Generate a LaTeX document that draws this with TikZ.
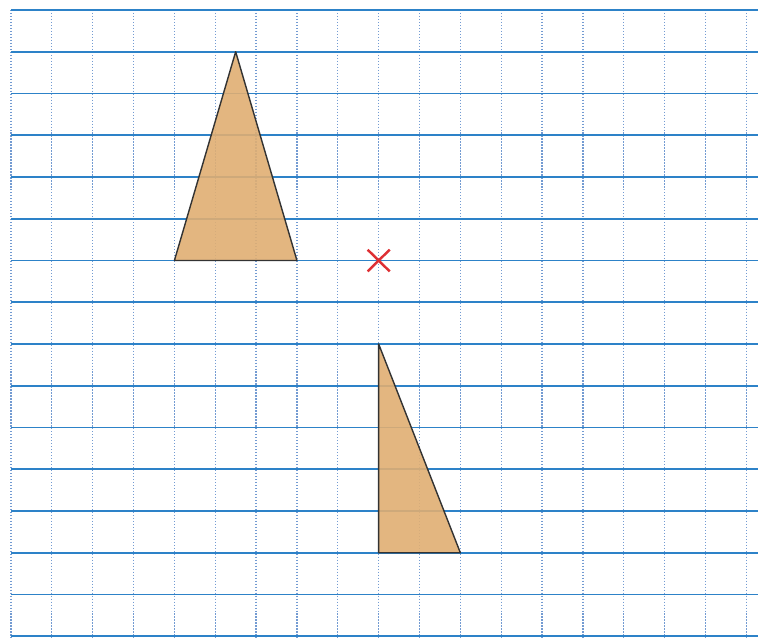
\documentclass[tikz,border=0pt]{standalone}
\usepackage{tikz}
\definecolor{gridblue}{RGB}{45,130,200}
\definecolor{dotblue}{RGB}{115,155,210}
\definecolor{tanfill}{RGB}{224,174,114}
\definecolor{crossred}{RGB}{222,48,52}

\begin{document}
\begin{tikzpicture}[x=0.817cm,y=-0.835cm]
\tikzstyle{hline}=[gridblue,line width=0.9pt]
\tikzstyle{vline}=[dotblue,line width=0.7pt,densely dotted]
\tikzstyle{tri}=[fill=tanfill,draw=black!80,line width=0.8pt,line join=round]
\tikzstyle{cross}=[crossred,line width=1.4pt]
\useasboundingbox (-0.269,-0.2395) rectangle (18.286,15.042);
% grid
\foreach \i in {0,...,18}
  \draw[vline] (\i,0) -- (\i,15.042);
\foreach \j in {0,...,15}
  \draw[hline] (0,\j) -- (18.286,\j);
% triangles
\coordinate (A1) at (4,6);
\coordinate (B1) at (7,6);
\coordinate (C1) at (5.5,1);
\coordinate (A2) at (9,8);
\coordinate (B2) at (9,13);
\coordinate (C2) at (11,13);
\draw[tri,fill opacity=0.9] (A1) -- (B1) -- (C1) -- cycle;
\draw[tri,fill opacity=0.9] (A2) -- (B2) -- (C2) -- cycle;
% centre
\coordinate (O) at (9,6);
\draw[cross] ([shift={(-0.27,-0.26)}]O) -- ([shift={(0.27,0.26)}]O);
\draw[cross] ([shift={(-0.27,0.26)}]O) -- ([shift={(0.27,-0.26)}]O);
\end{tikzpicture}
\end{document}
